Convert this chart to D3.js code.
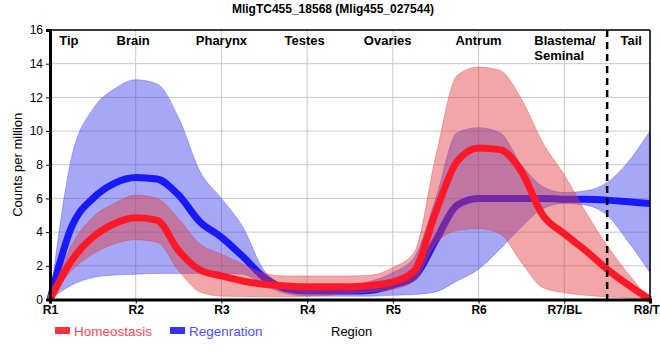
<!DOCTYPE html>
<html>
<head>
<meta charset="utf-8">
<script src="https://cdn.jsdelivr.net/npm/d3@7"></script>
<style>
  body { margin: 0; background: #fff; }
  svg { display: block; font-family: "Liberation Sans", Arial, sans-serif; }
</style>
</head>
<body>
<svg id="chart" width="660" height="360"></svg>
<script>
// ---------- data ----------
const regions = ["R1", "R2", "R3", "R4", "R5", "R6", "R7/BL", "R8/TL"];
const yTicks = [0, 2, 4, 6, 8, 10, 12, 14, 16];
const regionNames = ["Tip", "Brain", "Pharynx", "Testes", "Ovaries", "Antrum", "Blastema/\nSeminal", "Tail"];
const regionNamePos = [0.22, 0.97, 2.0, 2.97, 3.94, 5.0, 5.65, 6.78];
const tailBoundary = 6.5;

// sample positions along the worm (region index units)
const pos = [0, 0.25, 0.5, 0.75, 1, 1.25, 1.5, 1.75, 2, 2.25, 2.5, 2.75, 3, 3.25, 3.5, 3.75,
             4, 4.25, 4.5, 4.75, 5, 5.25, 5.5, 5.75, 6, 6.25, 6.5, 6.75, 7];

const homeoMean  = [0, 2.3, 3.7, 4.5, 4.85, 4.7, 2.9, 1.75, 1.4, 1.1, 0.9, 0.8, 0.75, 0.75, 0.75, 0.85,
                    1.05, 1.7, 5.2, 8.2, 9.0, 8.9, 7.6, 5.0, 3.9, 2.9, 1.8, 0.85, 0];
const homeoUpper = [0, 3.2, 4.9, 5.7, 6.2, 6.0, 4.8, 3.3, 2.7, 2.1, 1.55, 1.4, 1.4, 1.4, 1.4, 1.45,
                    1.9, 2.8, 8.5, 13.3, 13.8, 13.6, 11.9, 9.3, 7.4, 5.2, 3.2, 1.5, 0];
const homeoLower = [0, 1.7, 2.7, 3.3, 3.55, 3.4, 1.7, 0.45, 0.2, 0.18, 0.16, 0.16, 0.2, 0.25, 0.35, 0.45,
                    0.6, 1.1, 3.3, 4.1, 4.2, 3.9, 2.2, 0.7, 0.4, 0.25, 0.15, 0.08, 0];

const regenMean  = [0, 4.3, 6.0, 6.9, 7.25, 7.15, 6.2, 4.6, 3.7, 2.55, 1.3, 0.65, 0.5, 0.5, 0.5, 0.55,
                    0.85, 1.35, 3.5, 5.6, 6.0, 6.0, 6.0, 6.0, 5.95, 5.95, 5.9, 5.8, 5.7];
const regenUpper = [0, 8.4, 11.3, 12.5, 13.05, 12.8, 10.8, 7.6, 6.0, 4.3, 1.7, 0.9, 0.85, 0.85, 0.9, 1.1,
                    1.6, 2.5, 6.0, 9.9, 10.2, 9.9, 8.0, 6.7, 6.35, 6.45, 6.95, 8.2, 10.0];
const regenLower = [0, 0.85, 1.3, 1.45, 1.5, 1.55, 1.55, 1.55, 1.55, 1.5, 0.85, 0.35, 0.2, 0.2, 0.2, 0.2,
                    0.25, 0.3, 0.45, 1.1, 1.8, 3.0, 4.3, 5.4, 5.7, 5.6, 5.0, 3.4, 1.6];

const title = "MligTC455_18568 (Mlig455_027544)";

// ---------- layout ----------
const svg = d3.select("#chart");
const m = { left: 50, right: 10, top: 30, bottom: 61 };
const W = 660, H = 360;
const x = d3.scaleLinear().domain([0, regions.length - 1]).range([m.left, W - m.right]);
const y = d3.scaleLinear().domain([0, 16]).range([H - m.bottom + 0.5, m.top]);

const g = svg.append("g");

// grid
g.append("g").selectAll("line").data(d3.range(regions.length)).join("line")
  .attr("x1", d => x(d)).attr("x2", d => x(d))
  .attr("y1", y(16)).attr("y2", y(0))
  .attr("stroke", "#c8c8c8").attr("stroke-width", 1);
g.append("g").selectAll("line").data(yTicks).join("line")
  .attr("x1", x(0)).attr("x2", x(7))
  .attr("y1", d => y(d)).attr("y2", d => y(d))
  .attr("stroke", "#c8c8c8").attr("stroke-width", 1);

const curve = d3.curveMonotoneX;
function band(up, lo) {
  return d3.area().curve(curve).x((d, i) => x(pos[i])).y0((d, i) => y(lo[i])).y1((d, i) => y(up[i]))(pos);
}
function line(vals) {
  return d3.line().curve(curve).x((d, i) => x(pos[i])).y((d, i) => y(vals[i]))(pos);
}

const red = "rgb(255,25,40)", blue = "rgb(25,25,255)";
// regeneration band + line
g.append("path").attr("d", band(regenUpper, regenLower))
  .attr("fill", "rgb(60,60,240)").attr("fill-opacity", 0.45)
  .attr("stroke", "rgb(60,60,240)").attr("stroke-opacity", 0.35).attr("stroke-width", 1);
g.append("path").attr("d", line(regenMean))
  .attr("fill", "none").attr("stroke", blue).attr("stroke-width", 7).attr("stroke-linejoin", "round");
// homeostasis band + line
g.append("path").attr("d", band(homeoUpper, homeoLower))
  .attr("fill", "rgb(225,60,60)").attr("fill-opacity", 0.45)
  .attr("stroke", "rgb(225,60,60)").attr("stroke-opacity", 0.35).attr("stroke-width", 1);
g.append("path").attr("d", line(homeoMean))
  .attr("fill", "none").attr("stroke", red).attr("stroke-width", 7).attr("stroke-linejoin", "round");

// frame top/right
g.append("line").attr("x1", x(0)).attr("x2", x(7)).attr("y1", y(16)).attr("y2", y(16))
  .attr("stroke", "#000").attr("stroke-width", 1.5);
g.append("line").attr("x1", x(7)).attr("x2", x(7)).attr("y1", y(16)).attr("y2", y(0))
  .attr("stroke", "#000").attr("stroke-width", 1.5);

// tail boundary dashed
g.append("line").attr("x1", x(tailBoundary)).attr("x2", x(tailBoundary))
  .attr("y1", y(16)).attr("y2", y(0))
  .attr("stroke", "#000").attr("stroke-width", 2.5).attr("stroke-dasharray", "7,5");

// axes
const yAxis = g.append("g").attr("transform", `translate(${x(0)},0)`)
  .call(d3.axisLeft(y).tickValues(yTicks).tickSize(4).tickPadding(3));
yAxis.select(".domain").attr("stroke-width", 3);
yAxis.selectAll("text").attr("font-size", 12).attr("fill", "#000")
  .attr("font-family", "'Liberation Sans', Arial, sans-serif");

const xAxis = g.append("g").attr("transform", `translate(0,${y(0)})`)
  .call(d3.axisBottom(x).tickValues(d3.range(regions.length)).tickFormat(i => regions[i]).tickSize(4).tickPadding(2));
xAxis.select(".domain").attr("stroke-width", 3);
xAxis.selectAll("text").attr("font-size", 12).attr("fill", "#000").attr("font-weight", "bold")
  .attr("font-family", "'Liberation Sans', Arial, sans-serif");

// region names
regionNames.forEach((name, i) => {
  const lines = name.split("\n");
  const t = g.append("text")
    .attr("x", x(regionNamePos[i]))
    .attr("y", 45)
    .attr("font-size", 13).attr("font-weight", "bold")
    .attr("text-anchor", lines.length > 1 ? "start" : "middle");
  lines.forEach((l, k) => {
    t.append("tspan").attr("x", x(regionNamePos[i])).attr("dy", k === 0 ? 0 : 15).text(l);
  });
});

// title
svg.append("text").attr("x", 333).attr("y", 13)
  .attr("text-anchor", "middle").attr("font-size", 12).attr("font-weight", "bold").text(title);

// y label
svg.append("text").attr("transform", `translate(22,${(y(0) + y(16)) / 2}) rotate(-90)`)
  .attr("text-anchor", "middle").attr("font-size", 13).text("Counts per million");

// legend
const legend = [
  { name: "Homeostasis", color: "rgb(255,50,60)", text: "rgb(255,70,90)" },
  { name: "Regenration", color: "rgb(50,50,255)", text: "rgb(80,80,255)" }
];
const lx = [55, 170];
legend.forEach((d, i) => {
  svg.append("rect").attr("x", lx[i]).attr("y", 327).attr("width", 15).attr("height", 7).attr("fill", d.color);
  svg.append("text").attr("x", lx[i] + 19).attr("y", 336).attr("font-size", 13.5).attr("fill", d.text).text(d.name);
});
svg.append("text").attr("x", 331).attr("y", 336).attr("font-size", 13).text("Region");
</script>
</body>
</html>
